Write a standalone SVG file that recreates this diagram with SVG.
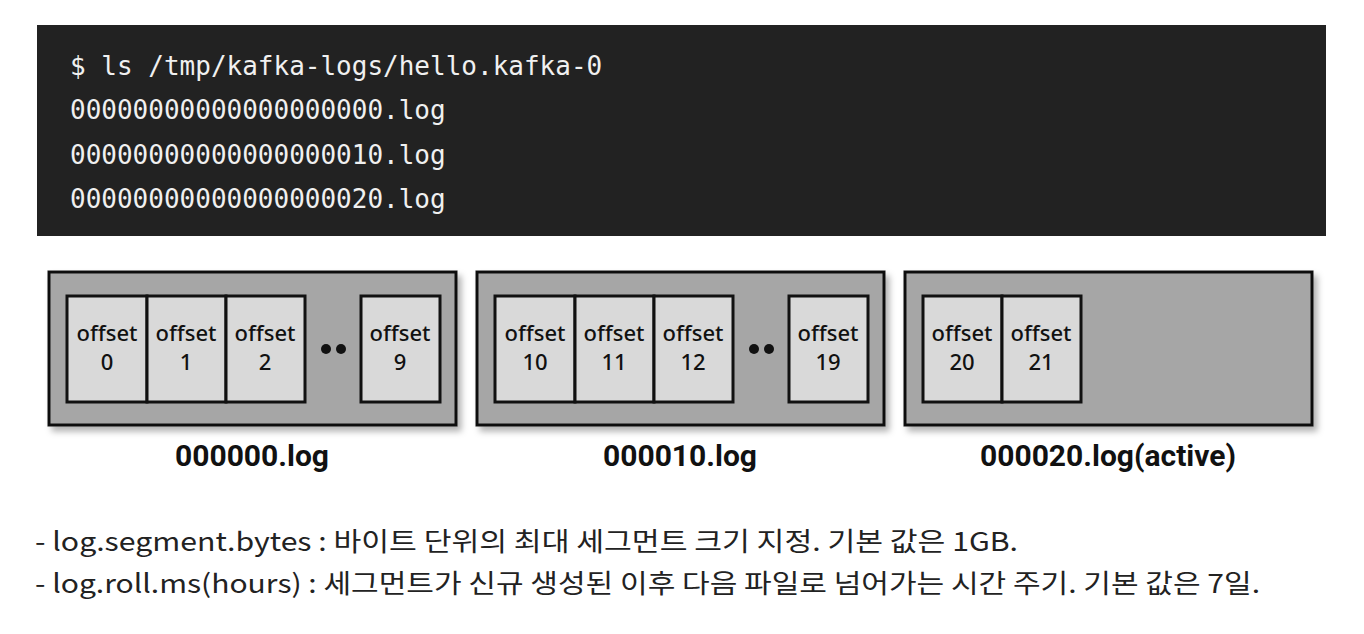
<svg xmlns="http://www.w3.org/2000/svg" width="1364" height="634" viewBox="0 0 1364 634">
<style>
.term{fill:#222222}
.mono{font-family:"DejaVu Sans Mono","Liberation Mono",monospace;font-size:26px;fill:#f0f0f0}
.seg{fill:#a6a6a6;stroke:#111;stroke-width:3}
.cell{fill:#d9d9d9;stroke:#111;stroke-width:3}
.ot{font-family:"Noto Sans","Liberation Sans",sans-serif;font-size:22px;font-weight:500;fill:#111;text-anchor:middle}
.lbl{font-family:"Roboto","Liberation Sans",sans-serif;font-weight:bold;font-size:30px;fill:#111;text-anchor:middle}
.note{font-family:"Noto Sans CJK KR","Noto Sans",sans-serif;font-size:26px;fill:#222}
.dot{fill:#111}
</style>
<defs>
<filter id="sh" x="-5%" y="-10%" width="115%" height="130%">
<feDropShadow dx="4" dy="5" stdDeviation="3" flood-color="#000" flood-opacity="0.3"/>
</filter>
</defs>
<rect width="1364" height="634" fill="#ffffff"/>
<g id="terminal">
<rect class="term" x="37" y="25" width="1289" height="211"/>
<text class="mono" x="70" y="75">$ ls /tmp/kafka-logs/hello.kafka-0</text>
<text class="mono" x="70" y="119">00000000000000000000.log</text>
<text class="mono" x="70" y="164">00000000000000000010.log</text>
<text class="mono" x="70" y="208">00000000000000000020.log</text>
</g>
<g id="segment0">
<rect class="seg" x="49" y="272" width="407" height="153" filter="url(#sh)"/>
<rect class="cell" x="67" y="296" width="80" height="106"/>
<rect class="cell" x="147" y="296" width="79" height="106"/>
<rect class="cell" x="226" y="296" width="79" height="106"/>
<rect class="cell" x="361" y="296" width="79" height="106"/>
<circle class="dot" cx="326" cy="349" r="5"/><circle class="dot" cx="341" cy="349" r="5"/>
<text class="ot" x="107" y="341">offset</text><text class="ot" x="107" y="370">0</text>
<text class="ot" x="186" y="341">offset</text><text class="ot" x="186" y="370">1</text>
<text class="ot" x="265" y="341">offset</text><text class="ot" x="265" y="370">2</text>
<text class="ot" x="400" y="341">offset</text><text class="ot" x="400" y="370">9</text>
<text class="lbl" x="252" y="466">000000.log</text>
</g>
<g id="segment10">
<rect class="seg" x="477" y="272" width="407" height="153" filter="url(#sh)"/>
<rect class="cell" x="495" y="296" width="80" height="106"/>
<rect class="cell" x="575" y="296" width="79" height="106"/>
<rect class="cell" x="654" y="296" width="79" height="106"/>
<rect class="cell" x="789" y="296" width="79" height="106"/>
<circle class="dot" cx="754" cy="349" r="5"/><circle class="dot" cx="769" cy="349" r="5"/>
<text class="ot" x="535" y="341">offset</text><text class="ot" x="535" y="370">10</text>
<text class="ot" x="614" y="341">offset</text><text class="ot" x="614" y="370">11</text>
<text class="ot" x="693" y="341">offset</text><text class="ot" x="693" y="370">12</text>
<text class="ot" x="828" y="341">offset</text><text class="ot" x="828" y="370">19</text>
<text class="lbl" x="680" y="466">000010.log</text>
</g>
<g id="segment20">
<rect class="seg" x="905" y="272" width="407" height="153" filter="url(#sh)"/>
<rect class="cell" x="923" y="296" width="79" height="106"/>
<rect class="cell" x="1002" y="296" width="79" height="106"/>
<text class="ot" x="962" y="341">offset</text><text class="ot" x="962" y="370">20</text>
<text class="ot" x="1041" y="341">offset</text><text class="ot" x="1041" y="370">21</text>
<text class="lbl" x="1108" y="466">000020.log(active)</text>
</g>
<g id="notes">
<text class="note" x="35" y="551" textLength="983" lengthAdjust="spacingAndGlyphs">- log.segment.bytes : 바이트 단위의 최대 세그먼트 크기 지정. 기본 값은 1GB.</text>
<text class="note" x="35" y="593" textLength="1225" lengthAdjust="spacingAndGlyphs">- log.roll.ms(hours) : 세그먼트가 신규 생성된 이후 다음 파일로 넘어가는 시간 주기. 기본 값은 7일.</text>
</g>
<g id="connectors"></g>
</svg>
